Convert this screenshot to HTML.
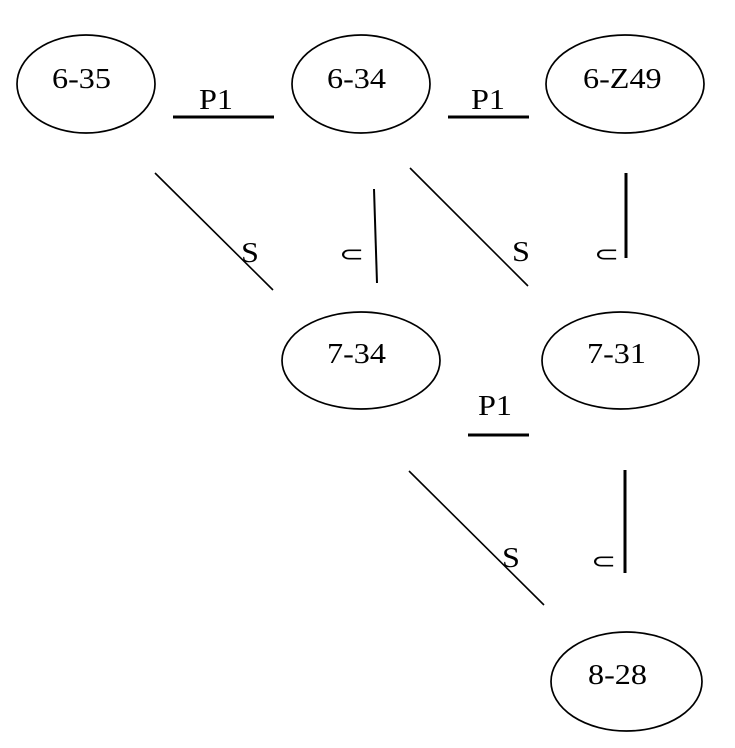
<!DOCTYPE html>
<html><head><meta charset="utf-8"><style>
html,body{margin:0;padding:0;background:#fff;}
svg{display:block;}
.t{font-family:"Liberation Serif","DejaVu Serif",serif;font-size:28px;fill:#000;}
.u{font-family:"DejaVu Sans",sans-serif;font-size:30px;fill:#000;}
</style></head><body>
<svg width="735" height="748" viewBox="0 0 735 748" xmlns="http://www.w3.org/2000/svg">
<rect width="735" height="748" fill="#fff"/>
<g fill="none" stroke="#000" stroke-width="1.7">
<ellipse cx="86" cy="84" rx="69" ry="49"/>
<ellipse cx="361" cy="84" rx="69" ry="49"/>
<ellipse cx="625" cy="84" rx="79" ry="49"/>
<ellipse cx="361" cy="360.5" rx="79" ry="48.5"/>
<ellipse cx="620.5" cy="360.5" rx="78.5" ry="48.5"/>
<ellipse cx="626.5" cy="681.5" rx="75.5" ry="49.5"/>
</g>
<g stroke="#000" stroke-width="3">
<line x1="173" y1="117" x2="274" y2="117"/>
<line x1="448" y1="117" x2="529" y2="117"/>
<line x1="468" y1="435" x2="529" y2="435"/>
<line x1="626" y1="173" x2="626" y2="258"/>
<line x1="625" y1="470" x2="625" y2="573"/>
</g>
<line x1="374" y1="189" x2="377" y2="283" stroke="#000" stroke-width="2"/>
<g stroke="#000" stroke-width="1.6">
<line x1="155" y1="173" x2="273" y2="290"/>
<line x1="410" y1="168" x2="528" y2="286"/>
<line x1="409" y1="471" x2="544" y2="605"/>
</g>
<text class="t" transform="translate(52,88) scale(1.15,1)">6-35</text>
<text class="t" transform="translate(327,88) scale(1.15,1)">6-34</text>
<text class="t" transform="translate(583,88) scale(1.15,1)">6-Z49</text>
<text class="t" transform="translate(327,363) scale(1.15,1)">7-34</text>
<text class="t" transform="translate(587,363) scale(1.15,1)">7-31</text>
<text class="t" transform="translate(588,684) scale(1.15,1)">8-28</text>
<text class="t" transform="translate(199,109) scale(1.15,1)">P1</text>
<text class="t" transform="translate(471,109) scale(1.15,1)">P1</text>
<text class="t" transform="translate(478,415) scale(1.15,1)">P1</text>
<text class="t" transform="translate(241,262) scale(1.15,1)">S</text>
<text class="t" transform="translate(512,261) scale(1.15,1)">S</text>
<text class="t" transform="translate(502,567) scale(1.15,1)">S</text>
<text class="u" transform="translate(339,261) scale(1,0.7)">⊂</text>
<text class="u" transform="translate(594,261) scale(1,0.7)">⊂</text>
<text class="u" transform="translate(591,568) scale(1,0.7)">⊂</text>
</svg>
</body></html>
